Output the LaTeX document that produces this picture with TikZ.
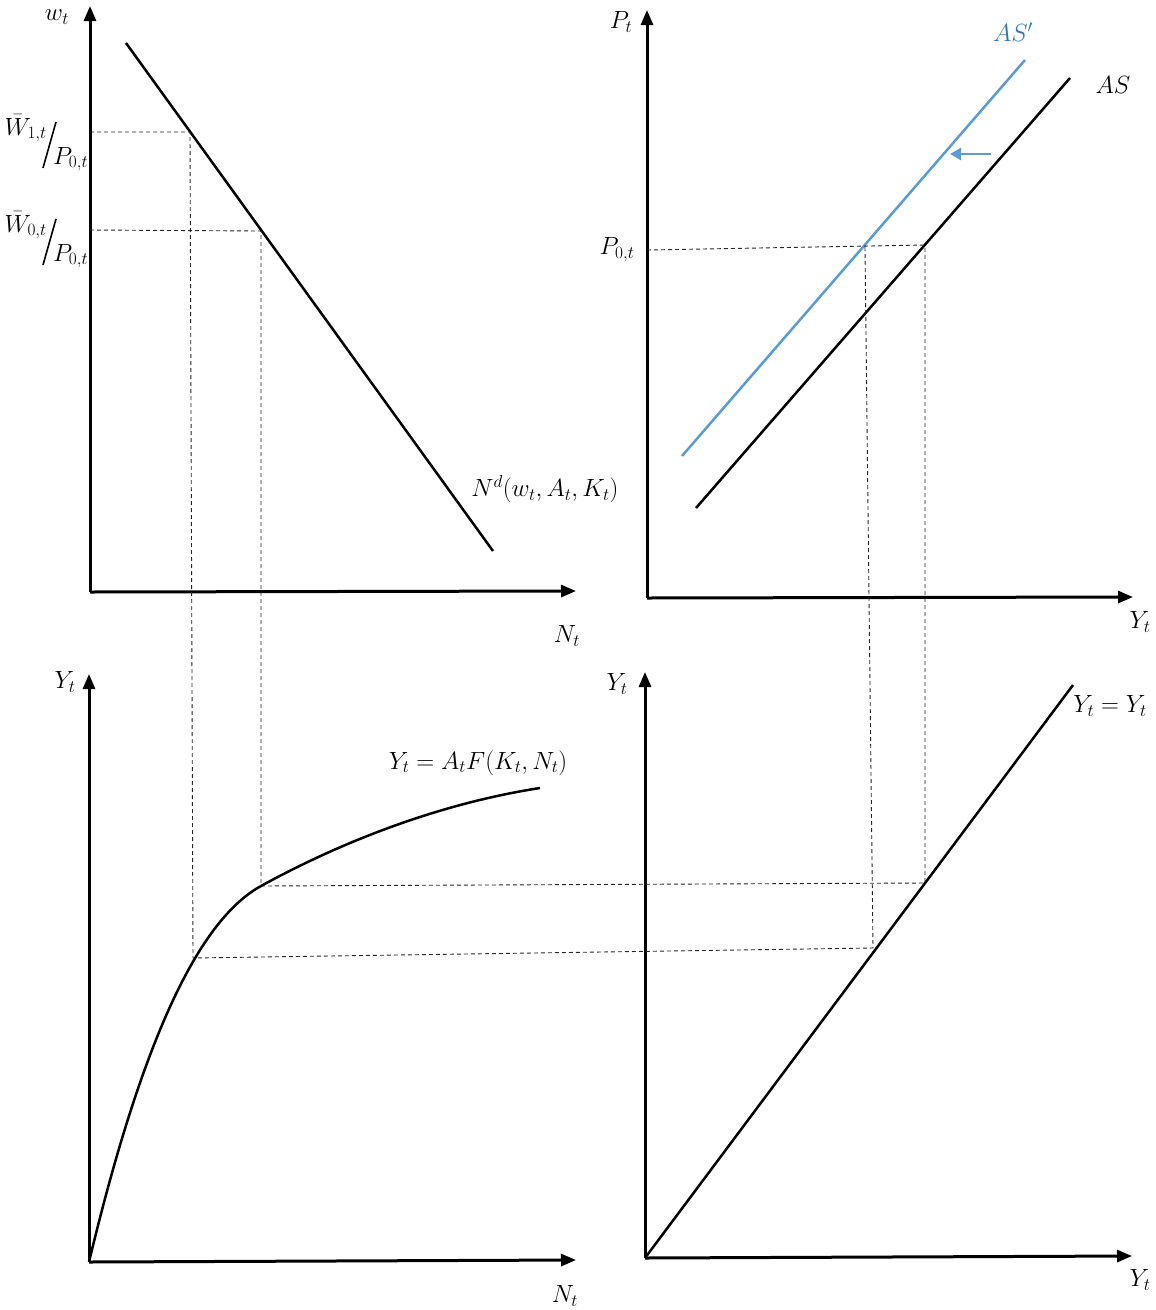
\documentclass[tikz,border=0pt]{standalone}
\usetikzlibrary{arrows.meta}
\definecolor{asblue}{RGB}{91,155,213}
\definecolor{astext}{RGB}{46,117,182}
\begin{document}
\begin{tikzpicture}[x=1pt,y=-1pt,
  axis/.style={line width=3pt,-{Triangle[length=15pt,width=12pt]}},
  curve/.style={line width=2.5pt},
  guide/.style={black!85,line width=0.9pt,dash pattern=on 4pt off 3pt},
  slash/.style={line width=1.6pt},
  lbl/.style={inner sep=0pt,font=\fontsize{24}{28}\selectfont}]
\useasboundingbox (0,0) rectangle (1156,1310);

% ---------- top-left: labour demand ----------
\coordinate (o1) at (90,592);
\coordinate (y1) at (90,6);
\coordinate (x1) at (576,591);
\draw[axis] (o1) -- (y1);
\draw[axis] (o1) -- (x1);
\coordinate (nd0) at (126,43);
\coordinate (nd1) at (493,551);
\draw[curve] (nd0) -- (nd1);
\node[lbl] (lw) at (57,17) {$w_t$};
\node[lbl] (lN1) at (567,636) {$N_t$};
\node[lbl] (lNd) at (545,489) {$N^d(w_t,A_t,K_t)$};
% wage labels  W/P
\node[lbl,anchor=base east] (lW1) at (47,135) {$\bar W_{1,t}$};
\node[lbl,anchor=base west] (lW1p) at (53,164) {$P_{0,t}$};
\coordinate (s1a) at (43,168);
\coordinate (s1b) at (56,122);
\draw[slash] (s1a) -- (s1b);
\node[lbl,anchor=base east] (lW0) at (47,232) {$\bar W_{0,t}$};
\node[lbl,anchor=base west] (lW0p) at (53,261) {$P_{0,t}$};
\coordinate (s0a) at (43,265);
\coordinate (s0b) at (56,219);
\draw[slash] (s0a) -- (s0b);
\coordinate (aW1) at (90,132);
\coordinate (aW0) at (90,230);
\coordinate (pW1) at (190,132);
\coordinate (pW0) at (261,231);

% ---------- top-right: aggregate supply ----------
\coordinate (o2) at (647,598);
\coordinate (y2) at (647,10);
\coordinate (x2) at (1133,597);
\draw[axis] (o2) -- (y2);
\draw[axis] (o2) -- (x2);
\coordinate (asb0) at (682,456);
\coordinate (asb1) at (1025,60);
\draw[curve,asblue] (asb0) -- (asb1);
\coordinate (as0) at (696,508);
\coordinate (as1) at (1070,78);
\draw[curve] (as0) -- (as1);
\coordinate (sh0) at (991,154);
\coordinate (sh1) at (950,154);
\draw[line width=2.5pt,asblue,-{Triangle[length=11pt,width=12pt]}] (sh0) -- (sh1);
\node[lbl] (lP) at (621,22) {$P_t$};
\node[lbl] (lY2) at (1140,622) {$Y_t$};
\node[lbl,text=astext] (lASp) at (1013,32) {$AS'$};
\node[lbl] (lAS) at (1113,85) {$AS$};
\node[lbl] (lP0) at (617,250) {$P_{0,t}$};
\coordinate (aP0) at (647,250);
\coordinate (pA1) at (865,247);
\coordinate (pA0) at (925,245);

% ---------- bottom-left: production function ----------
\coordinate (o3) at (89,1262);
\coordinate (y3) at (89,674);
\coordinate (x3) at (576,1260);
\draw[axis] (o3) -- (y3);
\draw[axis] (o3) -- (x3);
\coordinate (pF0) at (261,886);
\coordinate (fE) at (540,788);
\draw[curve] (o3) .. controls (135,1070) and (190,925) .. (pF0)
                  .. controls (330,848) and (430,805) .. (fE);
\node[lbl] (lY3) at (65,682) {$Y_t$};
\node[lbl] (lN3) at (565,1296) {$N_t$};
\node[lbl] (lF) at (478,763) {$Y_t = A_tF(K_t,N_t)$};
\coordinate (pF1) at (193,958);

% ---------- bottom-right: 45-degree line ----------
\coordinate (o4) at (645,1258);
\coordinate (y4) at (645,672);
\coordinate (x4) at (1132,1256);
\draw[axis] (o4) -- (y4);
\draw[axis] (o4) -- (x4);
\coordinate (d1) at (1073,685);
\draw[curve] (o4) -- (d1);
\node[lbl] (lY4) at (617,684) {$Y_t$};
\node[lbl] (lY5) at (1140,1280) {$Y_t$};
\node[lbl] (l45) at (1110,706) {$Y_t = Y_t$};
\coordinate (p45a) at (873,948);
\coordinate (p45b) at (925,883);

% ---------- guide lines ----------
\draw[guide] (aW1) -- (pW1) -- (pF1) -- (p45a) -- (pA1);
\draw[guide] (aW0) -- (pW0) -- (pF0) -- (p45b) -- (pA0);
\draw[guide] (aP0) -- (pA0);
\end{tikzpicture}
\end{document}
